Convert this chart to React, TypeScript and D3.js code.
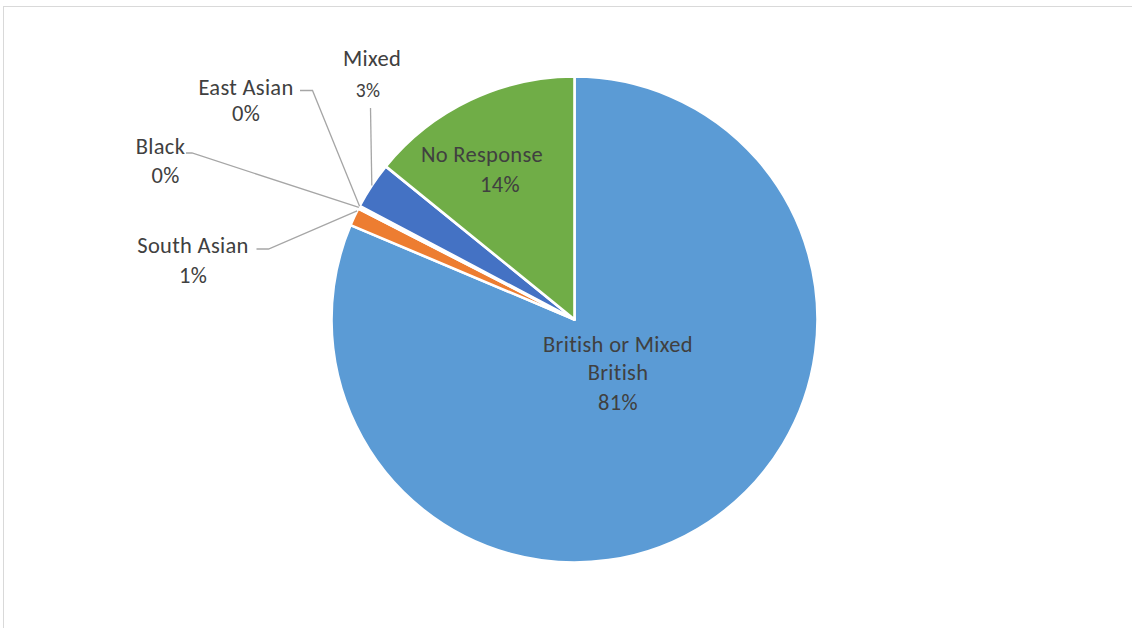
import React from "react";
import * as d3 from "d3";

const categories = ["British or Mixed British", "South Asian", "Black", "East Asian", "Mixed", "No Response"];
const values = [81.35, 1.2, 0.15, 0.05, 3.1, 14.15];
const colors = ["#5B9BD5", "#ED7D31", "#A5A5A5", "#FFC000", "#4472C4", "#70AD47"];

const W = 1132;
const H = 628;
const cx = 574.5;
const cy = 319.5;
const R = 243;
const FONT = "Carlito, Calibri, Lato, 'Noto Sans', sans-serif";
const FS = 22.5;

type LabelLayout = {
  lines: string[];
  x: number[];
  y: number[];
  small?: boolean[];
  line?: [number, number][];
};

export default function App() {
  const data = categories.map((c, i) => ({ name: c, value: values[i], color: colors[i] }));
  const pie = d3.pie<any>().sort(null).value((d) => d.value).startAngle(0).endAngle(2 * Math.PI);
  const arcs = pie(data);
  const arc = d3.arc<any>().innerRadius(0).outerRadius(R);
  const pct = (v: number) => `${Math.round(v)}%`;

  const edge = (i: number, frac = 0.5) => {
    const a = arcs[i].startAngle + (arcs[i].endAngle - arcs[i].startAngle) * frac;
    return [cx + R * Math.sin(a), cy - R * Math.cos(a)] as [number, number];
  };

  const layouts: LabelLayout[] = [
    { lines: ["British or Mixed", "British", pct(values[0])], x: [618, 618, 618], y: [351.5, 380, 410] },
    { lines: ["South Asian", pct(values[1])], x: [193, 193], y: [252.5, 282.5], line: [[256.5, 249], [268.5, 249], edge(1, 0.85)] },
    { lines: ["Black", pct(values[2])], x: [160.5, 165.5], y: [154, 183], line: [[186, 153], [192, 153], edge(2, 0.5)] },
    { lines: ["East Asian", pct(values[3])], x: [246, 246], y: [95, 121], line: [[300, 90.5], [312.5, 90.5], edge(3, 0.5)] },
    { lines: ["Mixed", pct(values[4])], x: [372, 368], y: [66, 97], small: [false, true], line: [[370.5, 108], edge(4, 0.5)] },
    { lines: ["No Response", pct(values[5])], x: [482, 500], y: [162, 191.5] },
  ];

  return (
    <svg width={W} height={H} style={{ position: "absolute", left: 0, top: 0, background: "#fff" }}>
      <rect x={3.5} y={6.5} width={W + 20} height={H + 20} fill="#fff" stroke="#d9d9d9" strokeWidth={1} />
      <g transform={`translate(${cx},${cy})`}>
        {arcs.map((a, i) => (
          <path key={i} d={arc(a) as string} fill={a.data.color} stroke="#fff" strokeWidth={2.6} strokeLinejoin="round" />
        ))}
      </g>
      {layouts.map((l, i) =>
        l.line ? (
          <polyline key={"l" + i} points={l.line.map((p) => p.join(",")).join(" ")} fill="none" stroke="#a6a6a6" strokeWidth={1.3} />
        ) : null
      )}
      {layouts.map((l, i) => (
        <g key={"t" + i}>
          {l.lines.map((s, j) => (
            <text
              key={j}
              x={l.x[j]}
              y={l.y[j]}
              textAnchor="middle"
              fontFamily={FONT}
              fontSize={l.small && l.small[j] ? FS * 0.87 : FS}
              letterSpacing={0.3}
              fill="#404040"
            >
              {s}
            </text>
          ))}
        </g>
      ))}
    </svg>
  );
}
